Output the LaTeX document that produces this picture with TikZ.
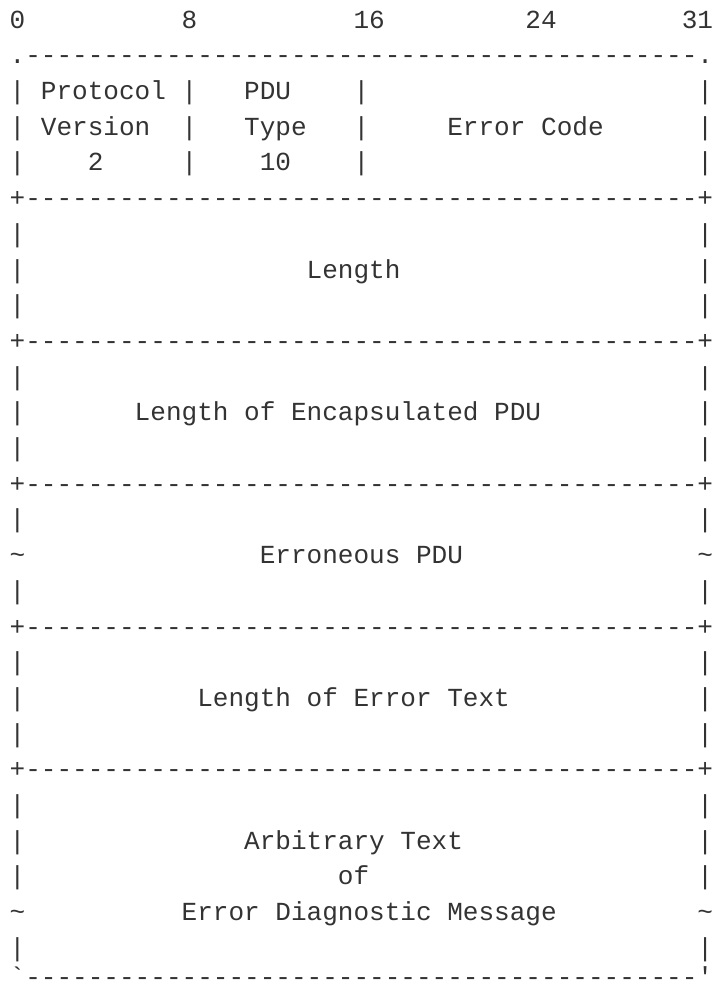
\documentclass[tikz,border=0pt]{standalone}
\usepackage{fontspec}
\usepackage{tikz}
\newfontfamily\asciifont{Liberation Mono}
\definecolor{asciigray}{HTML}{333333}
\newcommand{\dashrule}{-------------------------------------------}

\begin{document}
\begin{tikzpicture}[x=1pt, y=-1pt,
    declare function={colx(\c)=9.7+15.63*\c; rowy(\r)=28.1+35.7*\r;},
    ascii/.style={anchor=base west, inner sep=0pt, outer sep=0pt, text=asciigray,
        font=\asciifont\fontsize{26.05pt}{35.7pt}\selectfont}]
    \useasboundingbox (0,0) rectangle (714,985);
    % Draw the bit numbers
    \node[ascii] (bit0) at ({colx(0)},{rowy(0)}) {0};
    \node[ascii] (bit8) at ({colx(11)},{rowy(0)}) {8};
    \node[ascii] (bit16) at ({colx(22)},{rowy(0)}) {16};
    \node[ascii] (bit24) at ({colx(33)},{rowy(0)}) {24};
    \node[ascii] (bit31) at ({colx(43)},{rowy(0)}) {31};
    % Draw the rules
    \node[ascii] (top) at ({colx(0)},{rowy(1)}) {.\dashrule.};
    \foreach \r in {5,9,13,17,21}
        \node[ascii] (rule-\r) at ({colx(0)},{rowy(\r)}) {+\dashrule+};
    \node[ascii] (bottom) at ({colx(0)},{rowy(27)-7}) {`\dashrule'};
    % Draw the sides
    \foreach \r in {2,3,4,6,7,8,10,11,12,14,16,18,19,20,22,23,24,26} {
        \node[ascii] (left-\r) at ({colx(0)},{rowy(\r)}) {|};
        \node[ascii] (right-\r) at ({colx(44)},{rowy(\r)}) {|};
    }
    \foreach \r in {15,25} {
        \node[ascii] (left-\r) at ({colx(0)},{rowy(\r)}) {\textasciitilde};
        \node[ascii] (right-\r) at ({colx(44)},{rowy(\r)}) {\textasciitilde};
    }
    \foreach \r in {2,3,4}
        \foreach \c in {11,22}
            \node[ascii] (bar-\c-\r) at ({colx(\c)},{rowy(\r)}) {|};
    % Draw the header fields
    \node[ascii] (protocol) at ({colx(2)},{rowy(2)}) {Protocol};
    \node[ascii] (version) at ({colx(2)},{rowy(3)}) {Version};
    \node[ascii] (versionval) at ({colx(5)},{rowy(4)}) {2};
    \node[ascii] (pdu) at ({colx(15)},{rowy(2)}) {PDU};
    \node[ascii] (type) at ({colx(15)},{rowy(3)}) {Type};
    \node[ascii] (typeval) at ({colx(16)},{rowy(4)}) {10};
    \node[ascii] (errcode) at ({colx(28)},{rowy(3)}) {Error Code};
    % Draw the body fields
    \node[ascii] (length) at ({colx(19)},{rowy(7)}) {Length};
    \node[ascii] (encaplen) at ({colx(8)},{rowy(11)}) {Length of Encapsulated PDU};
    \node[ascii] (errpdu) at ({colx(16)},{rowy(15)}) {Erroneous PDU};
    \node[ascii] (textlen) at ({colx(12)},{rowy(19)}) {Length of Error Text};
    \node[ascii] (arbtext) at ({colx(15)},{rowy(23)}) {Arbitrary Text};
    \node[ascii] (of) at ({colx(21)},{rowy(24)}) {of};
    \node[ascii] (diagmsg) at ({colx(11)},{rowy(25)}) {Error Diagnostic Message};
\end{tikzpicture}
\end{document}
